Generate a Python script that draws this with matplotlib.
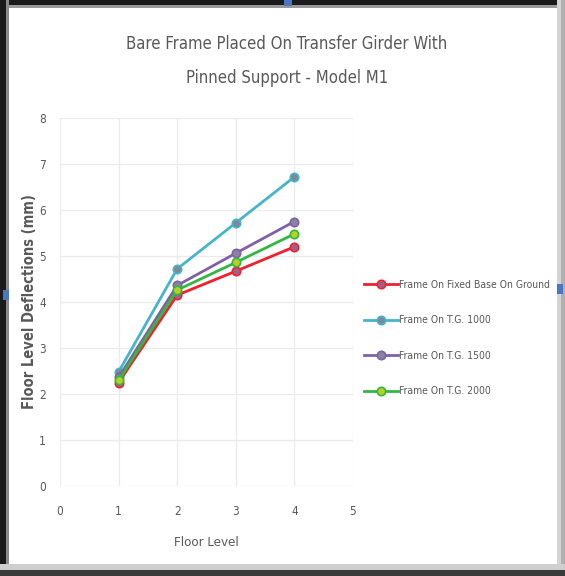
import matplotlib
matplotlib.use("Agg")
import matplotlib.pyplot as plt
from matplotlib.patches import Rectangle

# Data
floors = [1, 2, 3, 4]
fixed_base = [2.25, 4.15, 4.67, 5.20]
tg_1000 = [2.48, 4.72, 5.72, 6.72]
tg_1500 = [2.36, 4.36, 5.06, 5.75]
tg_2000 = [2.30, 4.26, 4.86, 5.48]

series_labels = [
    "Frame On Fixed Base On Ground",
    "Frame On T.G. 1000",
    "Frame On T.G. 1500",
    "Frame On T.G. 2000",
]
line_colors = ["#f0202c", "#46b4cc", "#8060a8", "#30b840"]
marker_faces = ["#a0608a", "#7a8a98", "#8a84a0", "#b8d020"]

title = "Bare Frame Placed On Transfer Girder With\nPinned Support - Model M1"
x_label = "Floor Level"
y_label = "Floor Level Deflections (mm)"

W, H = 565, 576
fig = plt.figure(figsize=(W / 100, H / 100), dpi=100)
fig.patch.set_facecolor("white")

font = ["DejaVu Sans"]
st = "condensed"
txt = "#595959"

ax = fig.add_axes([60 / W, 1 - 486 / H, (353 - 60) / W, (486 - 118) / H])
all_series = [fixed_base, tg_1000, tg_1500, tg_2000]
for vals, lab, lc, mf in zip(all_series, series_labels, line_colors, marker_faces):
    ax.plot(floors, vals, color=lc, lw=2.0, marker="o", ms=6,
            markerfacecolor=mf, markeredgecolor=lc, markeredgewidth=1.2,
            label=lab)

ax.set_xlim(0, 5)
ax.set_ylim(0, 8)
ax.set_xticks(range(0, 6))
ax.set_yticks(range(0, 9))
ax.grid(True, color="#ebebeb", lw=0.9)
ax.set_axisbelow(True)
for s in ax.spines.values():
    s.set_visible(False)
ax.tick_params(length=0, colors=txt, labelsize=8.5, pad=14)
for lbl in ax.get_xticklabels() + ax.get_yticklabels():
    lbl.set_family(font)
    lbl.set_stretch(st)
ax.tick_params(axis="y", pad=10)

ax.set_xlabel(x_label, fontsize=9.5, color=txt, family=font, stretch=st,
              labelpad=13)
ax.set_ylabel(y_label, fontsize=10.5, color=txt, family=font, stretch=st,
              fontweight="bold")
ax.yaxis.set_label_coords(-0.080, 0.5)

fig.text(287 / W, 1 - 61 / H, title, ha="center", va="center",
         fontsize=12, color=txt, family=font, stretch=st, linespacing=2.1)

leg = ax.legend(loc="center left", bbox_to_anchor=(359 / W, 1 - 338 / H),
                bbox_transform=fig.transFigure, frameon=False,
                fontsize=7.5, labelspacing=2.45, handlelength=3.2,
                handletextpad=0.1, borderpad=0)
for t in leg.get_texts():
    t.set_color(txt)
    t.set_family(font)
    t.set_stretch(st)

# Window frame around the chart
def rect(x, y, w, h, c):
    fig.add_artist(Rectangle((x / W, 1 - (y + h) / H), w / W, h / H,
                             transform=fig.transFigure, facecolor=c,
                             edgecolor="none", zorder=10))

rect(0, 0, W, 5, "#1a1a1a")
rect(0, 5, W, 3, "#9a9a9a")
rect(0, 0, 6, H, "#1a1a1a")
rect(6, 0, 3, H, "#8a8a8a")
rect(W - 8, 0, 8, H, "#d4d4d4")
rect(W - 4, 0, 4, H, "#b0b0b0")
rect(0, H - 12, W, 12, "#cfcfcf")
rect(0, H - 6, W, 6, "#3a3a3a")
# small handles
rect(284, 0, 8, 6, "#4a78c0")
rect(3, 290, 6, 10, "#4a78c0")
rect(W - 8, 284, 6, 10, "#4a78c0")

fig.savefig("out.png", dpi=100, facecolor="white")
